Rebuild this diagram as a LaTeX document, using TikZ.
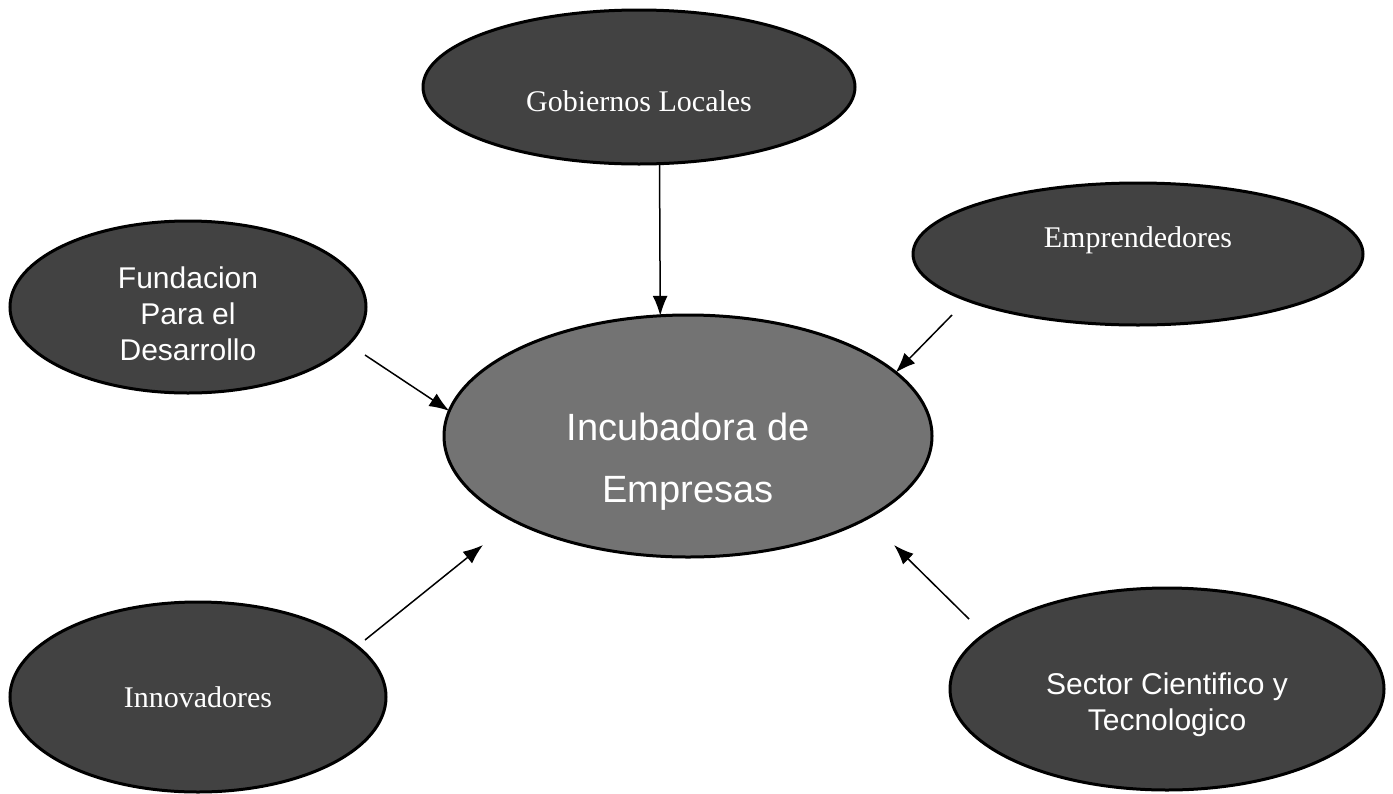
\documentclass[tikz,border=0pt]{standalone}
\usepackage{fontspec}
\setmainfont{Liberation Serif}
\setsansfont{Liberation Sans}
\usepackage{tikz}
\usetikzlibrary{arrows.meta,shapes.geometric}
\tikzset{blob/.style = {shape = ellipse, draw, line width = 3pt, fill = black!74, text = white, inner sep = 0pt, outer sep = 0pt, align = center}}
\tikzset{serifbig/.style = {font = \fontsize{30}{36}\selectfont}}
\tikzset{sansbig/.style = {font = \sffamily\fontsize{30}{36}\selectfont}}
\tikzset{edge/.style = {-{Latex[length=20pt,width=15pt]}, line width = 1.5pt}}

\begin{document}
\begin{tikzpicture}[x=1pt, y=-1pt]
			\useasboundingbox (0,0) rectangle (1393,793);

			\node[blob, serifbig, minimum width=432pt, minimum height=154pt] (gob) at (639,87) {\rule{0pt}{49pt}Gobiernos Locales};
			\node[blob, sansbig, minimum width=356pt, minimum height=172pt] (fund) at (188,307) {\rule{0pt}{36pt}Fundacion\\Para el\\Desarrollo};
			\node[blob, serifbig, minimum width=450pt, minimum height=142pt] (emp) at (1138,254) {Emprendedores\rule[-33pt]{0pt}{33pt}};
			\node[blob, fill=black!55, font=\sffamily\fontsize{38}{62}\selectfont, minimum width=488pt, minimum height=242pt] (inc) at (688,436) {\rule{0pt}{78pt}Incubadora de\\Empresas};
			\node[blob, serifbig, minimum width=376pt, minimum height=190pt] (inn) at (198,697) {Innovadores};
			\node[blob, sansbig, minimum width=434pt, minimum height=202pt] (sec) at (1167,689) {\rule{0pt}{53pt}Sector Cientifico y\\Tecnologico};

			% free ends of the arrows
			\coordinate (fundout) at (365,355);
			\coordinate (empout) at (952,315);
			\coordinate (innout) at (365,640);
			\coordinate (innin) at (483,545);
			\coordinate (secout) at (969,619);
			\coordinate (secin) at (894,545);

			\draw[edge] (gob.-75) to (inc.103);
			\draw[edge] (fundout) to (inc.174);
			\draw[edge] (empout) to (inc.17);
			\draw[edge] (innout) to (innin);
			\draw[edge] (secout) to (secin);
		\end{tikzpicture}
\end{document}
